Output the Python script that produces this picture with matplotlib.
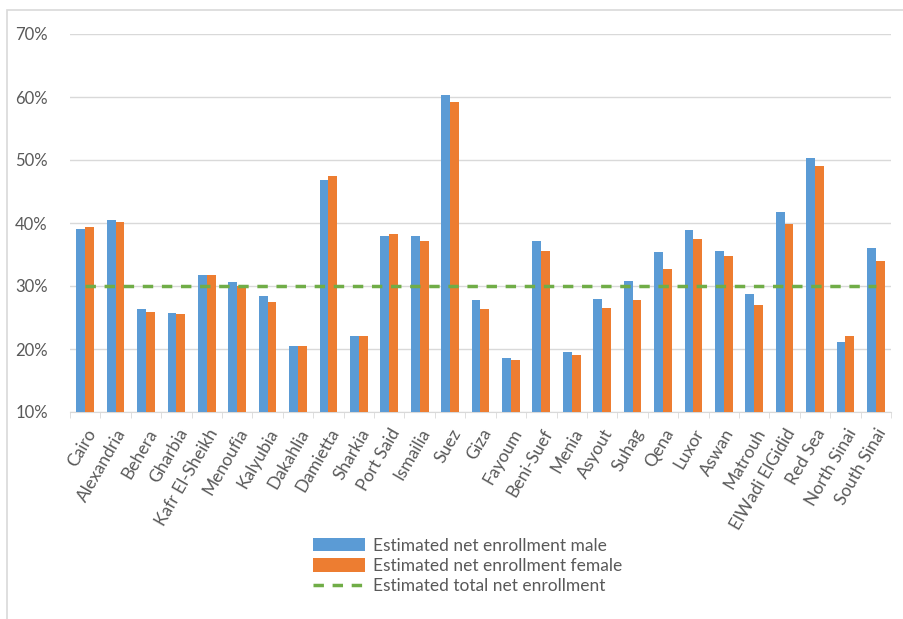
import matplotlib
matplotlib.use("Agg")
import matplotlib.pyplot as plt
from matplotlib.patches import Rectangle
import numpy as np

governorates = ["Cairo", "Alexandria", "Behera", "Gharbia", "Kafr El-Sheikh", "Menoufia",
                "Kalyubia", "Dakahlia", "Damietta", "Sharkia", "Port Said", "Ismailia",
                "Suez", "Giza", "Fayoum", "Beni-Suef", "Menia", "Asyout", "Suhag", "Qena",
                "Luxor", "Aswan", "Matrouh", "ElWadi ElGidid", "Red Sea", "North Sinai",
                "South Sinai"]
male = [39.1, 40.4, 26.4, 25.7, 31.7, 30.6, 28.4, 20.4, 46.8, 22.1, 37.9, 37.9,
        60.3, 27.7, 18.5, 37.1, 19.6, 27.9, 30.8, 35.4, 38.9, 35.5, 28.7, 41.8,
        50.3, 21.1, 36.1]
female = [39.3, 40.2, 25.9, 25.6, 31.7, 30.0, 27.5, 20.55, 47.4, 22.0, 38.3, 37.1,
          59.2, 26.4, 18.2, 35.6, 19.1, 26.5, 27.8, 32.7, 37.4, 34.7, 27.0, 39.9,
          49.0, 22.0, 34.0]
total = [30.0] * len(governorates)

plt.rcParams['font.family'] = ['Lato', 'DejaVu Sans']
txt = '#595959'
fs = 12.5

fig = plt.figure(figsize=(9.04, 6.19), dpi=100)
ax = fig.add_axes([70 / 904, 1 - 412 / 619, 821 / 904, 378 / 619])

x = np.arange(len(governorates))
w = 0.29
b1 = ax.bar(x - w / 2, male, w, color='#5B9BD5', label='Estimated net enrollment male', zorder=3)
b2 = ax.bar(x + w / 2, female, w, color='#ED7D31', label='Estimated net enrollment female', zorder=3)
l1, = ax.plot(x, total, color='#70AD47', lw=2.5, ls=(0, (3, 2.5)),
              label='Estimated total net enrollment', zorder=4)

ax.set_ylim(10, 70)
ax.set_xlim(-0.5, len(governorates) - 0.5)
ax.set_yticks(range(10, 71, 10))
ax.set_yticklabels([f'{v}%' for v in range(10, 71, 10)], color=txt, fontsize=12)
ax.yaxis.grid(True, color='#D9D9D9', lw=1, zorder=0)
ax.tick_params(axis='y', length=0, pad=16)

ax.set_xticks(x)
ax.set_xticklabels(governorates, rotation=60, ha='right', rotation_mode='anchor',
                   color=txt, fontsize=fs)
ax.set_xticks(np.arange(-0.5, len(governorates)), minor=True)
ax.tick_params(axis='x', which='major', length=0, pad=10)
ax.tick_params(axis='x', which='minor', length=4, color='#D9D9D9')

for s in ['top', 'right', 'left']:
    ax.spines[s].set_visible(False)
ax.spines['bottom'].set_color('#D9D9D9')

leg = fig.legend(handles=[b1, b2, l1], loc='upper left',
                 bbox_to_anchor=(297 / 904, 1 - 522 / 619), frameon=False,
                 fontsize=fs, handlelength=3.0, handleheight=0.8, labelspacing=0.25,
                 handletextpad=0.45)
for t in leg.get_texts():
    t.set_color(txt)

fig.patches.append(Rectangle((7 / 904, -0.1), 1.2, 1 - 10 / 619 + 0.1, transform=fig.transFigure,
                             fill=False, edgecolor='#D9D9D9', lw=1.2))

fig.savefig('out.png', dpi=100)
